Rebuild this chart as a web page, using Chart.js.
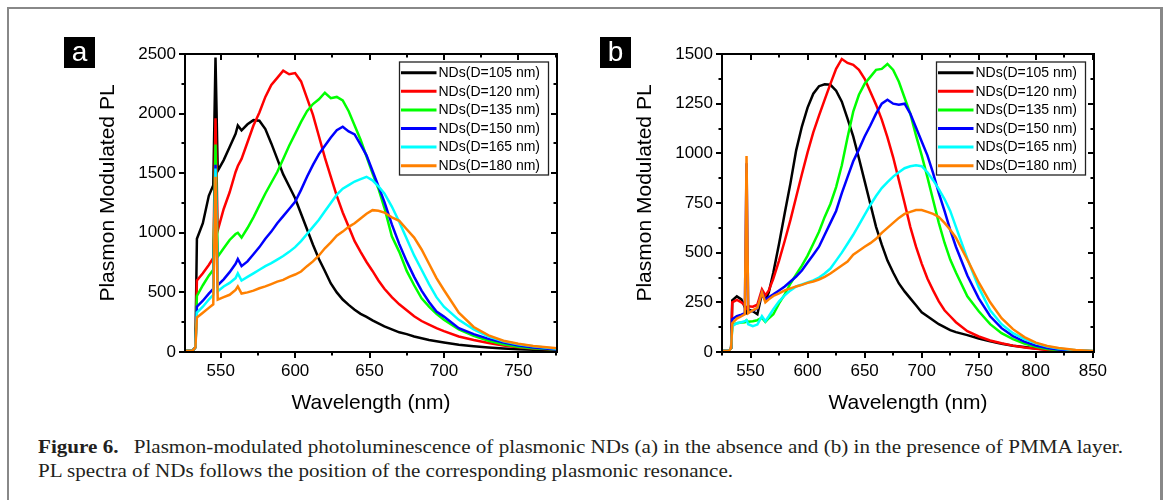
<!DOCTYPE html>
<html>
<head>
<meta charset="utf-8">
<script src="https://cdn.jsdelivr.net/npm/chart.js@4.4.1/dist/chart.umd.min.js"></script>
<style>
  body { margin: 0; background: #fff; width: 1165px; height: 500px; overflow: hidden; position: relative; font-family: "Liberation Sans", Arial, sans-serif; }
  #frame { position: absolute; left: 7px; top: 7px; width: 1151px; height: 500px; border-left: 2px solid #888; border-top: 2px solid #888; border-right: 3px solid #888; }
  canvas { position: absolute; top: 0; }
  #ca { left: 0; }
  #cb { left: 582px; }
  .tag { position: absolute; top: 37px; width: 31px; height: 31px; background: #000; color: #fff; font-size: 28px; line-height: 29px; text-align: center; }
  .cap { position: absolute; left: 38px; font-family: "Liberation Serif", "Times New Roman", serif; font-size: 18px; line-height: 24px; color: #231f20; white-space: nowrap; transform-origin: 0 0; }
</style>
</head>
<body>
<div id="frame"></div>
<canvas id="ca" width="582" height="430"></canvas>
<canvas id="cb" width="583" height="430"></canvas>
<div class="tag" style="left:64px">a</div>
<div class="tag" style="left:600px">b</div>
<div class="cap" id="cap1" style="top:435px"><b>Figure 6.</b><span style="display:inline-block;width:13px"></span>Plasmon-modulated photoluminescence of plasmonic NDs (a) in the absence and (b) in the presence of PMMA layer.</div>
<div class="cap" id="cap2" style="top:459px">PL spectra of NDs follows the position of the corresponding plasmonic resonance.</div>
<script>
// panel (a): without PMMA
const wavelengthA = [526, 531, 533, 534, 538, 542, 545, 546.5, 548, 552, 556, 560, 561.5, 564, 568, 572, 576, 580,
  584, 588, 592, 596, 600, 604, 608, 612, 616, 620, 624, 628, 632, 636, 640, 644, 648, 652,
  656, 660, 665, 670, 675, 680, 685, 690, 695, 700, 710, 720, 730, 740, 750, 760, 776];
const a105 = [10, 10, 40, 950, 1080, 1310, 1400, 2470, 1520, 1610, 1720, 1830, 1900, 1860, 1910, 1945, 1940, 1870,
  1750, 1620, 1490, 1390, 1290, 1160, 1030, 900, 780, 680, 575, 500, 440, 395, 355, 320, 295, 265,
  240, 215, 190, 165, 150, 130, 115, 100, 90, 80, 60, 48, 38, 30, 24, 19, 14];
const a120 = [10, 10, 40, 600, 660, 730, 790, 1960, 1020, 1200, 1340, 1510, 1560, 1620, 1760, 1900, 2010, 2140,
  2240, 2300, 2360, 2330, 2340, 2270, 2130, 1990, 1810, 1630, 1470, 1310, 1170, 1050, 930, 840, 755, 680,
  600, 530, 460, 400, 350, 300, 260, 230, 200, 175, 130, 100, 75, 55, 40, 30, 20];
const a135 = [10, 10, 40, 470, 560, 640, 690, 1740, 800, 870, 940, 990, 1000, 960, 1040, 1130, 1230, 1330,
  1420, 1510, 1620, 1730, 1830, 1930, 2020, 2080, 2120, 2175, 2130, 2140, 2110, 2020, 1900, 1780, 1640, 1500,
  1370, 1210, 970, 840, 680, 560, 450, 380, 320, 270, 190, 135, 95, 65, 45, 32, 20];
const a150 = [10, 10, 40, 380, 430, 490, 530, 1570, 560, 610, 670, 740, 780, 720, 760, 820, 880, 950,
  1010, 1080, 1140, 1200, 1260, 1360, 1470, 1570, 1660, 1730, 1800, 1860, 1890, 1850, 1825, 1740, 1650, 1520,
  1390, 1260, 1070, 905, 760, 630, 515, 420, 340, 297, 200, 150, 110, 80, 55, 38, 20];
const a165 = [10, 10, 40, 330, 380, 440, 480, 1540, 510, 550, 580, 620, 660, 600, 630, 660, 690, 720,
  745, 775, 805, 840, 880, 930, 990, 1050, 1110, 1180, 1250, 1320, 1370, 1400, 1430, 1450, 1470, 1440,
  1390, 1330, 1220, 1090, 950, 810, 690, 570, 460, 380, 270, 190, 130, 90, 65, 48, 28];
const a180 = [10, 10, 40, 290, 330, 370, 400, 1470, 440, 460, 480, 520, 550, 490, 500, 515, 535, 550,
  570, 590, 605, 630, 650, 675, 720, 760, 810, 870, 920, 975, 1010, 1050, 1080, 1120, 1160, 1190,
  1185, 1170, 1130, 1100, 1030, 960, 860, 740, 620, 520, 330, 210, 140, 95, 70, 50, 32];

// panel (b): with PMMA
const wavelengthB = [525, 531, 533, 534, 538, 542, 545, 546.5, 548, 552, 556, 560, 563, 566, 570, 575, 580, 585,
  590, 595, 600, 605, 610, 615, 620, 625, 630, 635, 640, 645, 650, 655, 660, 665, 670, 675,
  680, 685, 690, 695, 700, 705, 710, 715, 720, 725, 730, 740, 750, 760, 770, 780, 790, 800,
  810, 820, 835, 851];
const b105 = [5, 5, 20, 260, 280, 265, 225, 200, 215, 205, 190, 295, 260, 300, 400, 545, 700, 850,
  1015, 1135, 1230, 1300, 1338, 1348, 1345, 1315, 1260, 1175, 1085, 975, 860, 745, 630, 540, 460, 400,
  345, 305, 270, 235, 200, 180, 160, 140, 125, 110, 100, 85, 68, 54, 42, 32, 25, 18,
  12, 9, 6, 4];
const b120 = [5, 5, 20, 250, 262, 250, 235, 220, 230, 228, 238, 315, 285, 310, 370, 460, 560, 665,
  780, 895, 1005, 1105, 1190, 1270, 1350, 1425, 1475, 1455, 1445, 1420, 1375, 1310, 1245, 1170, 1080, 980,
  865, 750, 630, 530, 445, 370, 310, 255, 210, 180, 150, 105, 78, 58, 44, 32, 23, 16,
  10, 7, 5, 3];
const b135 = [5, 5, 20, 135, 145, 148, 150, 160, 152, 155, 160, 172, 152, 170, 190, 245, 290, 345,
  390, 435, 485, 545, 605, 680, 745, 830, 940, 1080, 1210, 1295, 1350, 1385, 1420, 1425, 1450, 1420,
  1360, 1280, 1200, 1090, 990, 880, 765, 650, 550, 465, 400, 280, 205, 140, 95, 65, 42, 26,
  15, 10, 5, 3];
const b150 = [5, 5, 20, 165, 180, 188, 195, 950, 200, 208, 220, 300, 262, 275, 290, 310, 330, 355,
  380, 410, 450, 490, 530, 590, 650, 710, 800, 880, 960, 1020, 1085, 1140, 1200, 1250, 1270, 1250,
  1245, 1250, 1200, 1130, 1060, 990, 900, 800, 710, 615, 530, 385, 270, 180, 120, 80, 52, 32,
  20, 13, 7, 4];
const b165 = [5, 5, 20, 130, 145, 150, 155, 160, 140, 130, 138, 180, 155, 180, 215, 255, 285, 310,
  330, 340, 350, 360, 375, 395, 420, 460, 500, 545, 590, 640, 690, 740, 785, 825, 855, 883,
  905, 925, 935, 940, 935, 905, 865, 820, 770, 710, 630, 470, 325, 210, 140, 95, 65, 44,
  28, 18, 9, 5];
const b180 = [5, 5, 20, 145, 168, 180, 190, 987, 195, 210, 222, 300, 250, 265, 282, 295, 310, 320,
  330, 338, 348, 355, 365, 378, 395, 415, 435, 455, 490, 510, 530, 548, 570, 600, 625, 650,
  675, 695, 705, 715, 715, 705, 695, 680, 650, 615, 575, 465, 350, 250, 170, 115, 75, 47,
  30, 20, 10, 5];

const xTicksA = [550, 600, 650, 700, 750];
const yTicksA = [0, 500, 1000, 1500, 2000, 2500];
const xTicksB = [550, 600, 650, 700, 750, 800, 850];
const yTicksB = [0, 250, 500, 750, 1000, 1250, 1500];
const seriesNames = ["NDs(D=105 nm)", "NDs(D=120 nm)", "NDs(D=135 nm)", "NDs(D=150 nm)", "NDs(D=165 nm)", "NDs(D=180 nm)"];
const seriesColors = ["#000000", "#ff0000", "#00ff00", "#0000ff", "#00ffff", "#ff8000"];

const FONT = "Liberation Sans";

// frame, origin-style ticks (out on left/bottom, in on top/right), y title and boxed legend
const framePlugin = {
  id: "frame",
  afterDatasetsDraw(chart, args, o) {
    const ctx = chart.ctx, a = chart.chartArea, x = chart.scales.x, y = chart.scales.y;
    ctx.save();
    ctx.strokeStyle = "#000";
    ctx.lineWidth = 2;
    ctx.beginPath();
    for (let v = Math.ceil(x.min / o.xStep) * o.xStep; v <= x.max; v += o.xStep) {
      const p = Math.round(x.getPixelForValue(v));
      const len = v % o.xMajor === 0 ? 6 : 3.5;
      ctx.moveTo(p, a.bottom); ctx.lineTo(p, a.bottom + len);
      ctx.moveTo(p, a.top); ctx.lineTo(p, a.top + len);
    }
    for (let v = 0; v <= y.max; v += o.yStep) {
      const p = Math.round(y.getPixelForValue(v));
      const len = v % o.yMajor === 0 ? 6 : 3.5;
      ctx.moveTo(a.left - len, p); ctx.lineTo(a.left, p);
      ctx.moveTo(a.right - len, p); ctx.lineTo(a.right, p);
    }
    ctx.stroke();
    ctx.strokeRect(a.left, a.top, a.right - a.left, a.bottom - a.top);

    // y axis title
    ctx.save();
    ctx.translate(o.titleX, o.titleY);
    ctx.rotate(-Math.PI / 2);
    ctx.fillStyle = "#000";
    ctx.font = "21px " + FONT;
    ctx.textAlign = "center";
    ctx.textBaseline = "middle";
    ctx.fillText("Plasmon Modulated PL", 0, 0);
    ctx.restore();

    // legend box
    const bw = 149, bh = 113, bx = a.right - 8.5 - bw, by = a.top + 8;
    ctx.fillStyle = "#fff";
    ctx.fillRect(bx, by, bw, bh);
    ctx.lineWidth = 1.3;
    ctx.strokeStyle = "#222";
    ctx.strokeRect(bx, by, bw, bh);
    ctx.font = "14px " + FONT;
    ctx.textBaseline = "middle";
    chart.data.datasets.forEach((ds, i) => {
      const cy = by + 10.7 + i * 18.6;
      ctx.strokeStyle = ds.borderColor;
      ctx.lineWidth = 3;
      ctx.beginPath();
      ctx.moveTo(bx + 1.5, cy); ctx.lineTo(bx + 37, cy);
      ctx.stroke();
      ctx.fillStyle = "#000";
      ctx.fillText(ds.label, bx + 39, cy + 0.5);
    });
    ctx.restore();
  }
};

function makePanel(id, wl, series, xr, yr, xTicks, yTicks, yWidth, rightPad, frameOpts) {
  const datasets = series.map((vals, i) => ({
    label: seriesNames[i],
    data: wl.map((w, k) => ({ x: w, y: vals[k] })),
    borderColor: seriesColors[i],
    borderWidth: 2.5,
    pointRadius: 0,
    tension: 0,
    fill: false,
    order: series.length - i
  }));
  const tickFont = { family: FONT, size: 17 };
  return new Chart(document.getElementById(id), {
    type: "line",
    data: { datasets },
    plugins: [framePlugin],
    options: {
      responsive: false,
      animation: false,
      devicePixelRatio: 1,
      layout: { padding: { top: 54, right: rightPad, bottom: 0, left: 0 } },
      plugins: {
        legend: { display: false },
        tooltip: { enabled: false },
        frame: frameOpts
      },
      scales: {
        x: {
          type: "linear", min: xr[0], max: xr[1],
          afterBuildTicks: s => { s.ticks = xTicks.map(v => ({ value: v })); },
          afterFit: s => { s.height = 78; },
          grid: { display: false, drawTicks: false },
          border: { display: false },
          ticks: { font: tickFont, color: "#000", padding: 9, maxRotation: 0, autoSkip: false, callback: v => String(v) },
          title: { display: true, text: "Wavelength (nm)", color: "#000", font: { family: FONT, size: 21 }, padding: { top: 0, bottom: 14 } }
        },
        y: {
          type: "linear", min: yr[0], max: yr[1],
          afterBuildTicks: s => { s.ticks = yTicks.map(v => ({ value: v })); },
          afterFit: s => { s.width = yWidth; },
          grid: { display: false, drawTicks: false },
          border: { display: false },
          ticks: { font: tickFont, color: "#000", padding: 9, autoSkip: false, callback: v => String(v) },
          title: { display: false }
        }
      }
    }
  });
}

makePanel("ca", wavelengthA, [a105, a120, a135, a150, a165, a180], [526, 776], [0, 2500],
  xTicksA, yTicksA, 185, 25, { xStep: 25, xMajor: 50, yStep: 250, yMajor: 500, titleX: 108, titleY: 193 });
makePanel("cb", wavelengthB, [b105, b120, b135, b150, b165, b180], [525, 851], [0, 1500],
  xTicksB, yTicksB, 140, 71, { xStep: 25, xMajor: 50, yStep: 125, yMajor: 250, titleX: 63, titleY: 193 });

// widen the caption so the first line spans like the printed one
const cap1 = document.getElementById("cap1"), cap2 = document.getElementById("cap2");
const k = 1085 / cap1.getBoundingClientRect().width;
cap1.style.transform = "scaleX(" + k + ")";
cap2.style.transform = "scaleX(" + k + ")";
</script>
</body>
</html>
